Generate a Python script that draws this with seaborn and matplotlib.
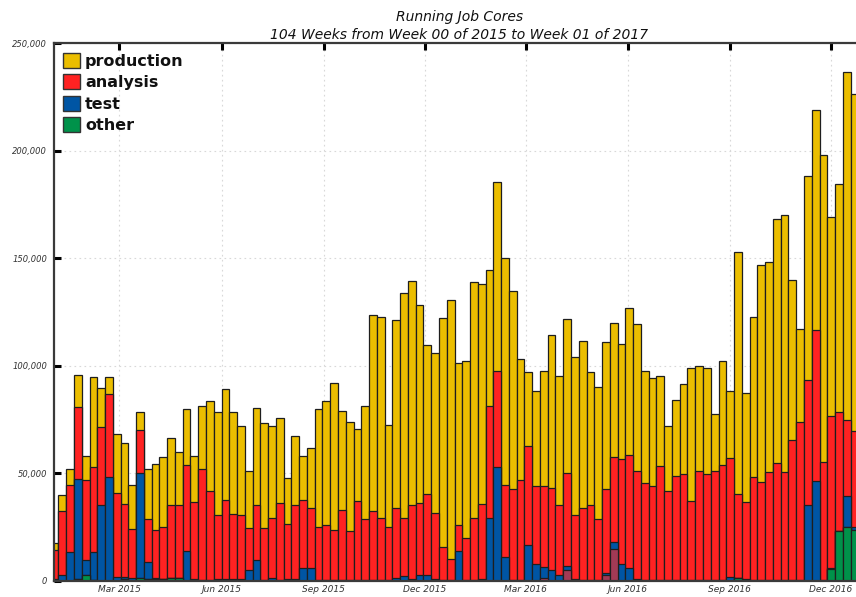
import numpy as np
import pandas as pd
import matplotlib
matplotlib.use("Agg")
import matplotlib.pyplot as plt
import matplotlib.dates as mdates
from matplotlib.patches import Patch
from matplotlib.ticker import FuncFormatter, MultipleLocator
import seaborn as sns

# ---------------- data (thousands of cores per week) ----------------
first_week = "2014-12-29"
n_weeks = 104

production = [3.2, 7.5, 7.5, 14.5, 11.3, 41.9, 18.4, 8.1, 27.2, 28.6,
              20.6, 8.4, 23.2, 31.0, 32.2, 31.5, 24.7, 26.1, 21.2, 29.1,
              42.0, 47.9, 51.7, 47.1, 41.7, 26.3, 45.1, 48.8, 42.8, 39.6,
              21.4, 32.3, 20.4, 27.8, 54.4, 57.5, 68.2, 46.4, 50.8, 33.4,
              52.9, 91.1, 93.5, 47.3, 87.2, 104.5, 103.9, 92.2, 69.3, 74.2,
              106.4, 120.4, 75.1, 82.3, 109.6, 102.1, 63.0, 87.9, 105.7, 92.0,
              56.3, 34.2, 43.9, 53.5, 70.8, 59.9, 71.6, 73.1, 77.3, 61.5,
              61.5, 68.0, 62.3, 53.4, 68.4, 68.2, 52.1, 50.0, 41.5, 30.3,
              35.1, 42.1, 61.7, 48.5, 49.5, 26.3, 48.2, 30.9, 112.8, 50.4,
              74.3, 100.9, 97.3, 113.5, 119.6, 74.4, 43.0, 94.8, 102.2, 142.8,
              92.4, 105.6, 161.6, 156.7]

analysis = [13.3, 29.4, 31.3, 33.8, 37.2, 39.8, 36.0, 38.4, 39.3, 33.7,
            22.7, 20.0, 20.3, 22.0, 24.3, 33.8, 34.1, 39.9, 35.9, 51.6,
            41.1, 29.5, 36.7, 30.3, 29.5, 19.9, 25.5, 23.9, 28.1, 35.7,
            25.7, 34.3, 31.5, 27.9, 25.0, 25.6, 23.4, 32.5, 22.9, 36.9,
            28.1, 31.8, 28.9, 25.0, 32.5, 27.0, 34.6, 33.6, 37.7, 30.8,
            15.4, 10.1, 12.0, 19.5, 29.1, 34.9, 52.1, 44.8, 33.6, 42.6,
            46.3, 46.0, 36.5, 37.5, 38.4, 32.4, 43.3, 29.8, 33.8, 35.1,
            28.3, 39.1, 39.9, 48.7, 52.4, 50.3, 45.3, 44.0, 53.3, 41.3,
            48.7, 49.2, 37.0, 51.0, 49.2, 51.0, 53.8, 55.3, 38.8, 36.1,
            48.1, 45.6, 50.5, 54.4, 50.2, 65.4, 73.6, 58.3, 70.3, 54.9,
            70.4, 55.5, 35.4, 44.5]

test = [1.0, 2.9, 13.3, 46.2, 7.0, 12.8, 35.4, 48.5, 1.8, 1.0,
        1.3, 48.4, 7.6, 0.5, 0.2, 0.1, 0.1, 14.0, 1.0, 0.5,
        0.5, 1.0, 1.0, 1.0, 1.0, 4.9, 9.9, 0.5, 1.3, 0.5,
        0.8, 0.8, 6.2, 6.2, 0.3, 0.5, 0.3, 0.3, 0.3, 0.3,
        0.5, 0.5, 0.5, 0.3, 1.6, 2.1, 0.8, 2.6, 2.6, 1.0,
        0.3, 0.3, 14.0, 0.5, 0.3, 1.0, 29.4, 52.9, 11.0, 0.3,
        0.5, 16.7, 7.8, 5.4, 4.9, 2.8, 2.1, 1.0, 0.3, 0.3,
        0.3, 0.9, 2.8, 7.8, 6.2, 1.0, 0.3, 0.3, 0.3, 0.3,
        0.3, 0.3, 0.3, 0.3, 0.3, 0.3, 0.3, 2.0, 0.0, 0.8,
        0.3, 0.3, 0.3, 0.3, 0.3, 0.3, 0.3, 35.2, 46.3, 0.3,
        0.7, 0.0, 14.1, 1.8]

other = [0, 0, 0, 1.0, 2.6, 0.5, 0, 0, 0, 1.0,
         0, 1.6, 1.0, 1.0, 0.8, 1.2, 1.2, 0, 0, 0,
         0, 0, 0, 0, 0, 0, 0, 0, 0, 0,
         0, 0, 0, 0, 0, 0, 0, 0, 0, 0,
         0, 0, 0, 0, 0, 0, 0, 0, 0, 0,
         0, 0, 0, 0, 0, 0, 0, 0, 0, 0,
         0, 0, 0, 0, 0, 0, 0, 0, 0, 0,
         0, 0, 0, 0, 0, 0, 0, 0, 0, 0,
         0, 0, 0, 0, 0, 0, 0, 0, 1.5, 0,
         0, 0, 0, 0, 0, 0, 0, 0, 0, 0,
         5.5, 23.2, 25.3, 23.5]

# small unlabeled activity (drawn in maroon, not in the legend)
unlabeled = [0] * 63 + [1.3, 0, 0, 4.9, 0, 0, 0, 0, 2.9, 15.1] + [0] * 31

categories = ["production", "analysis", "test", "other"]
palette = {"production": "#EBBE00", "analysis": "#FF2222",
           "test": "#0055A4", "other": "#00924A", "unlabeled": "#A23A55"}
title_text = "Running Job Cores\n104 Weeks from Week 00 of 2015 to Week 01 of 2017"
month_ticks = [3, 6, 9, 12]

# ---------------- table ----------------
weeks = pd.date_range(first_week, periods=n_weeks, freq="7D")
df = pd.DataFrame({
    "week": weeks,
    "production": np.array(production) * 1000,
    "analysis": np.array(analysis) * 1000,
    "test": np.array(test) * 1000,
    "other": np.array(other) * 1000,
    "unlabeled": np.array(unlabeled) * 1000,
})
df["x"] = mdates.date2num(df["week"] + pd.Timedelta(days=3.5))
df["c_other"] = df["other"]
df["c_unl"] = df["c_other"] + df["unlabeled"]
df["c_test"] = df["c_unl"] + df["test"]
df["c_analysis"] = df["c_test"] + df["analysis"]
df["c_production"] = df["c_analysis"] + df["production"]

# ---------------- figure ----------------
W, H = 856, 597
fig = plt.figure(figsize=(W / 100, H / 100), dpi=100)
ax_left, ax_right, ax_top, ax_bottom = 54, 865, 43, 581
ax = fig.add_axes([ax_left / W, 1 - ax_bottom / H,
                   (ax_right - ax_left) / W, (ax_bottom - ax_top) / H])

layers = [("c_production", palette["production"]),
          ("c_analysis", palette["analysis"]),
          ("c_test", palette["test"]),
          ("c_unl", palette["unlabeled"]),
          ("c_other", palette["other"])]
for col, colr in layers:
    sns.barplot(data=df, x="x", y=col, native_scale=True, orient="x",
                width=1.0, color=colr, saturation=1, errorbar=None,
                edgecolor="#1e1e1e", linewidth=0.9, ax=ax, legend=False)

ax.set_xlim(mdates.date2num(pd.Timestamp("2015-01-01")),
            mdates.date2num(pd.Timestamp("2017-01-01")))
ax.set_ylim(0, 250000)
ax.set_xlabel("")
ax.set_ylabel("")

ax.xaxis.set_major_locator(mdates.MonthLocator(bymonth=month_ticks))
ax.xaxis.set_major_formatter(mdates.DateFormatter("%b %Y"))
ax.yaxis.set_major_locator(MultipleLocator(50000))
ax.yaxis.set_major_formatter(FuncFormatter(lambda v, p: f"{int(v):,}"))

ax.set_axisbelow(True)
ax.grid(True, linestyle=(0, (1.5, 3)), color="#d8d8d8", linewidth=0.8)

for s in ax.spines.values():
    s.set_linewidth(1.6)
    s.set_color("#3a3a3a")
    s.set_zorder(5)

ax.tick_params(axis="x", which="major", direction="in", length=5, width=2.2,
               color="black", top=True, bottom=True, labelsize=6.5,
               labelcolor="#333333", pad=3)
ax.tick_params(axis="y", which="major", direction="in", length=5, width=2.2,
               color="black", left=True, right=True, labelsize=6,
               labelcolor="#333333", pad=5)
for lab in ax.get_xticklabels() + ax.get_yticklabels():
    lab.set_fontstyle("italic")
for t in ax.xaxis.get_major_ticks() + ax.yaxis.get_major_ticks():
    t.tick1line.set_zorder(6)
    t.tick2line.set_zorder(6)

ax.set_title(title_text, fontsize=10, fontstyle="italic", linespacing=1.38,
             pad=3, color="#111111")

handles = [Patch(facecolor=palette[c], edgecolor="#333333", linewidth=1.0,
                 label=c) for c in categories]
leg = ax.legend(handles=handles, loc="upper left",
                bbox_to_anchor=(63 / W, 1 - 53 / H),
                bbox_transform=fig.transFigure, frameon=False,
                borderpad=0, borderaxespad=0, handlelength=1.08,
                handleheight=1.08, handletextpad=0.3, labelspacing=0.33,
                prop={"size": 11.5, "weight": "bold"})
for t in leg.get_texts():
    t.set_color("#111111")

fig.savefig("out.png", dpi=100)
